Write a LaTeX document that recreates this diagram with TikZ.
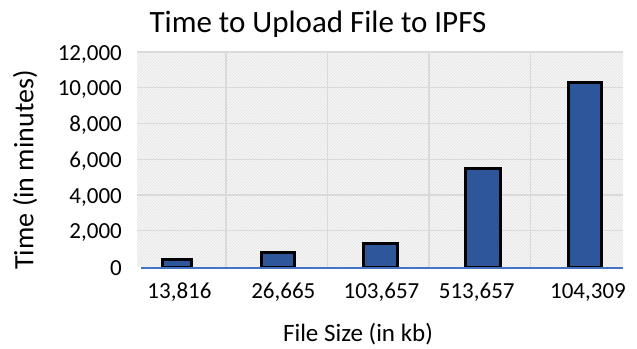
\documentclass[tikz,border=0pt]{standalone}
\usepackage{fontspec}
\setmainfont{Carlito}
\usetikzlibrary{patterns}
\definecolor{barblue}{RGB}{45,87,154}
\definecolor{axisblue}{RGB}{68,114,196}
\definecolor{gridgray}{RGB}{218,218,218}
\definecolor{plotbg}{RGB}{245,245,245}
\definecolor{hatchgray}{RGB}{228,228,228}
\begin{document}
\begin{tikzpicture}[x=1pt,y=-1pt,
  barbox/.style={draw=black,line width=3pt,fill=barblue},
  gridline/.style={draw=gridgray,line width=1.3pt},
  ticklabel/.style={font=\fontsize{23}{27}\selectfont,inner sep=0pt},
  axistitle/.style={font=\fontsize{25}{30}\selectfont,inner sep=0pt},
  charttitle/.style={font=\fontsize{31}{36}\selectfont,inner sep=0pt}]
  \useasboundingbox[fill=white] (0,0) rectangle (637,348);
  % plot area
  \fill[plotbg] (137,52) rectangle (623,266.5);
  \fill[pattern=north east lines,pattern color=hatchgray] (137,52) rectangle (623,266.5);
  % horizontal grid lines every 2,000
  \foreach \v in {2000,4000,...,12000}
    \draw[gridline] (137,{266.5-\v*0.017875}) -- (623,{266.5-\v*0.017875});
  % vertical grid lines between categories
  \foreach \gx in {226,327.5,429,530.5}
    \draw[gridline] (\gx,52) -- (\gx,266.5);
  % bars
  \foreach \xl/\xr/\val [count=\i] in {162.2/191.2/375, 261.5/294.2/800, 363.2/397.5/1315, 465.8/500.2/5466, 568.2/601.8/10310}
    \draw[barbox] (\xl,267) rectangle (\xr,{266.5-\val*0.017875});
  % category axis line
  \draw[axisblue,line width=2.2pt] (141,268.3) -- (623,268.3);
  % value axis labels
  \foreach \v/\t in {0/0,2000/{2,000},4000/{4,000},6000/{6,000},8000/{8,000},10000/{10,000},12000/{12,000}}
    \node[ticklabel,anchor=east] (y\v) at (122,{268.5-\v*0.017875}) {\t};
  % category labels
  \node[ticklabel] (c1) at (179.5,292.5) {13,816};
  \node[ticklabel] (c2) at (283.3,292.5) {26,665};
  \node[ticklabel] (c3) at (381.5,292.5) {103,657};
  \node[ticklabel] (c4) at (476.7,292.5) {513,657};
  \node[ticklabel] (c5) at (588,292.5) {104,309};
  % titles
  \node[charttitle] (title) at (318,24) {Time to Upload File to IPFS};
  \node[axistitle] (xtitle) at (358,334.5) {File Size (in kb)};
  \node[axistitle,font=\fontsize{28}{33}\selectfont,rotate=90] (ytitle) at (25,170) {Time (in minutes)};
\end{tikzpicture}
\end{document}
